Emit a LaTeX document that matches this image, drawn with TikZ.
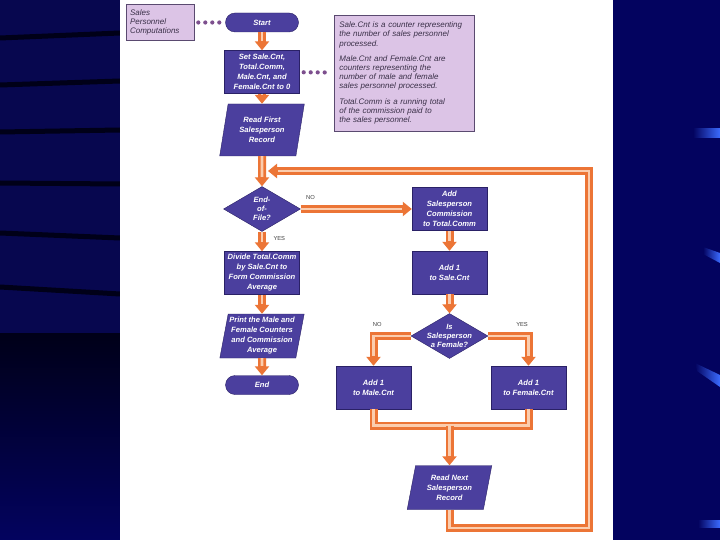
\documentclass[tikz,border=0pt]{standalone}
\usepackage{fontspec}
\setmainfont{Liberation Sans}
\usepackage{tikz}
\usetikzlibrary{positioning}
\usetikzlibrary{arrows.meta}
\usetikzlibrary{shapes.geometric}

\definecolor{slidebg}{HTML}{03035F}
\definecolor{leftbg}{HTML}{07074F}
\definecolor{stripecol}{HTML}{000018}
\definecolor{barblue}{HTML}{3B6BFF}
\definecolor{boxfill}{HTML}{4B3F9E}
\definecolor{boxline}{HTML}{2A2166}
\definecolor{notefill}{HTML}{DCC4E6}
\definecolor{noteline}{HTML}{5A4A70}
\definecolor{notetext}{HTML}{3A3048}
\definecolor{tubeout}{HTML}{EC7536}
\definecolor{tubein}{HTML}{FBCDAE}
\definecolor{dotcol}{HTML}{7D4F8E}

\tikzset{
  boxtext/.style={text=white, align=center, font=\fontsize{7.6}{10}\selectfont\bfseries\itshape},
  procbox/.style={boxtext, draw=boxline, fill=boxfill, minimum width=75pt, minimum height=43pt, inner sep=1pt},
  iobox/.style={boxtext, trapezium, trapezium left angle=78, trapezium right angle=102, trapezium stretches=true,
    draw=boxline, fill=boxfill, minimum width=85pt, minimum height=44pt, inner sep=1pt},
  termbox/.style={boxtext, draw=boxline, fill=boxfill, rounded corners=9.5pt, minimum width=73pt, minimum height=19pt, inner sep=1pt},
  decbox/.style={boxtext, diamond, draw=boxline, fill=boxfill, font=\fontsize{7.6}{9}\selectfont\bfseries\itshape,
    minimum width=77pt, minimum height=45pt, inner sep=-6pt},
  notebox/.style={draw=noteline, fill=notefill, text=notetext, align=left, font=\fontsize{8}{9.2}\selectfont\itshape},
  lbl/.style={text=black!75, font=\fontsize{5.8}{6}\selectfont, inner sep=0.5pt},
  dotlink/.style={dotcol, line width=4.2pt, line cap=round, dash pattern=on 0pt off 7pt, shorten <=4pt, shorten >=3pt},
  tube/.style={draw=tubeout, line width=8pt, line join=miter,
    postaction={draw=tubein, line width=2.6pt, line join=miter}},
  flow/.style={draw=tubeout, line width=8pt, line join=miter, -{Triangle[width=14pt,length=9pt]},
    postaction={draw=tubein, line width=2.6pt, line join=miter, -, shorten >=9.5pt}},
}

\begin{document}
\begin{tikzpicture}[x=1pt, y=1pt]
  \useasboundingbox (0,0) rectangle (720,-540);
  \fill[slidebg] (0,0) rectangle (720,-540);
  \fill[leftbg] (0,0) rectangle (120,-340);
  \shade[top color=stripecol, bottom color=slidebg] (0,-333) rectangle (120,-540);
  \foreach \ya/\yb in {38/33, 85/81, 132/130, 183/184, 233/238, 287/294}
    \draw[stripecol, line width=5pt] (0,-\ya) -- (120,-\yb);
  \shade[left color=slidebg, right color=barblue] (693,-129) rectangle (720,-138);
  \shade[left color=slidebg, right color=barblue] (703,-247) -- (720,-253) -- (720,-263) -- (703,-254) -- cycle;
  \shade[left color=slidebg, right color=barblue] (695,-363) -- (720,-375) -- (720,-387) -- (697,-371) -- cycle;
  \shade[left color=slidebg, right color=barblue] (698,-520) rectangle (720,-527);
  \fill[white] (120,0) rectangle (613,-540);

  \node[termbox] (start) at (262,-22.5) {Start};
  \node[procbox, below of=start, node distance=49.5pt] (init) {Set Sale.Cnt,\\Total.Comm,\\Male.Cnt, and\\Female.Cnt to 0};
  \node[iobox, below of=init, node distance=58pt, minimum height=52pt] (readfirst) {Read First\\Salesperson\\Record};
  \node[decbox, below of=readfirst, node distance=79pt] (eof) {End-\\of-\\File?};
  \node[procbox, below of=eof, node distance=64pt] (divide) {Divide Total.Comm\\by Sale.Cnt to\\Form Commission\\Average};
  \node[iobox, below of=divide, node distance=63pt] (print) {Print the Male and\\Female Counters\\and Commission\\Average};
  \node[termbox, below of=print, node distance=49pt] (finish) {End};

  \node[procbox, right of=eof, node distance=187.5pt] (addcomm) {Add\\Salesperson\\Commission\\to Total.Comm};
  \node[procbox, below of=addcomm, node distance=63.5pt] (addsale) {Add 1\\to Sale.Cnt};
  \node[decbox, below of=addsale, node distance=63.5pt] (female) {Is\\Salesperson\\a Female?};
  \node[procbox, below of=female, node distance=51.5pt, xshift=-76pt] (addmale) {Add 1\\to Male.Cnt};
  \node[procbox, below of=female, node distance=51.5pt, xshift=79pt] (addfemale) {Add 1\\to Female.Cnt};
  \node[iobox, below of=female, node distance=151.5pt] (readnext) {Read Next\\Salesperson\\Record};

  \node[notebox, left=31pt of start, minimum width=68pt, minimum height=36pt, text width=60pt] (tag) {Sales\\Personnel\\Computations};
  \node[notebox, right=34.5pt of init, yshift=-1pt, minimum width=140pt, minimum height=116pt, text width=130pt] (legend)
    {Sale.Cnt is a counter representing\\the number of sales personnel\\processed.\\[6pt]
     Male.Cnt and Female.Cnt are\\counters representing the\\number of male and female\\sales personnel processed.\\[6pt]
     Total.Comm is a running total\\of the commission paid to\\the sales personnel.};

  \coordinate[below of=female, node distance=89.5pt] (merge);
  \coordinate (loopcorner) at (589,-528);
  \coordinate (loopend) at (268,-171);

  \draw[dotlink] (tag) -- (start);
  \draw[dotlink] (init) -- (legend);

  \draw[flow] (start) -- (init);
  \draw[flow] (init) -- (readfirst);
  \draw[flow] (readfirst) -- (eof);
  \draw[flow] (eof) -- node[lbl, above right=4.5pt and 1pt, pos=0] {NO} (addcomm);
  \draw[flow] (eof) -- node[lbl, right=7pt, pos=0.35] {YES} (divide);
  \draw[flow] (divide) -- (print);
  \draw[flow] (print) -- (finish);
  \draw[flow] (addcomm) -- (addsale);
  \draw[flow] (addsale) -- (female);
  \draw[flow] (female.west) -| node[lbl, above=4.5pt, pos=0.45] {NO} (addmale);
  \draw[flow] (female.east) -| node[lbl, above=4.5pt, pos=0.42] {YES} (addfemale);
  \draw[tube] (addmale) |- (merge) -| (addfemale);
  \draw[flow] (merge) -- (readnext);
  \draw[flow] (readnext) |- (loopcorner) |- (loopend);
\end{tikzpicture}
\end{document}
